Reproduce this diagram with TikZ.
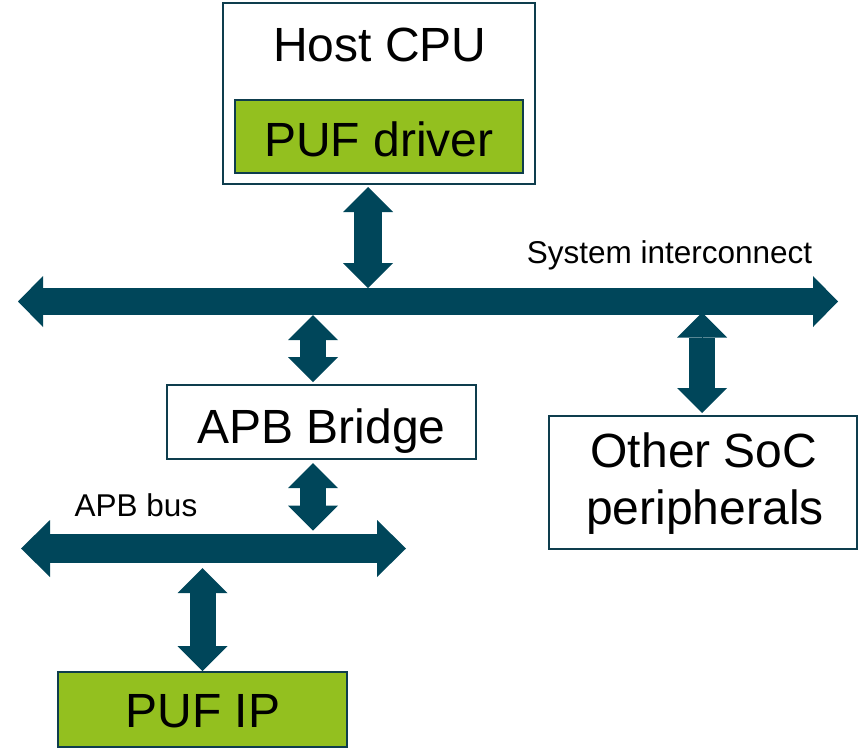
\documentclass[tikz,border=0pt]{standalone}
\usepackage{fontspec}
\setmainfont{Liberation Sans}
\usetikzlibrary{arrows.meta,calc}
\definecolor{busteal}{HTML}{00465A}
\definecolor{edgeteal}{HTML}{0E3D4D}
\definecolor{ipgreen}{HTML}{93C01F}
\begin{document}
\begin{tikzpicture}[x=1pt,y=-1pt,
  box/.style={draw=edgeteal, line width=2pt, fill=white, inner sep=0pt},
  ipbox/.style={box, fill=ipgreen},
  big/.style={font=\fontsize{48}{56}\selectfont, inner sep=0pt, anchor=base},
  small/.style={font=\fontsize{31.5}{36}\selectfont, inner sep=0pt, anchor=base},
  % a plain shaft under the heads closes the seam between shaft and tips
  shaft/.style={preaction={draw=busteal, arrows=-, shorten <=#1, shorten >=#1}},
  bus/.style={draw=busteal, line width=27pt, shaft=15pt,
    {Triangle[width=51pt,length=25pt,line width=0pt]}-{Triangle[width=51pt,length=25pt,line width=0pt]}},
  apbbus/.style={draw=busteal, line width=29pt, shaft=17pt,
    {Triangle[width=57pt,length=29pt,line width=0pt]}-{Triangle[width=57pt,length=29pt,line width=0pt]}},
  link/.style={draw=busteal, line width=26pt, shaft=15pt,
    {Triangle[width=50pt,length=25pt,line width=0pt]}-{Triangle[width=50pt,length=25pt,line width=0pt]}}
]
\useasboundingbox (0,0) rectangle (859,750);

% blocks
\node[box, minimum width=312pt, minimum height=181pt] (cpu) at (379,93.5) {};
\node[big] (cputext) at (380,61) {Host CPU};
\node[ipbox, minimum width=288pt, minimum height=73pt] (drv) at (379,136.5) {};
\node[big] (drvtext) at (379,156) {PUF driver};
\node[box, minimum width=309pt, minimum height=74pt] (bridge) at (321.5,422) {};
\node[big] (bridgetext) at (321.5,443) {APB Bridge};
\node[box, minimum width=308pt, minimum height=133pt] (other) at (703,482.5) {};
\node[big] (othertexta) at (704,467) {Other SoC};
\node[big] (othertextb) at (705,524) {peripherals};
\node[ipbox, minimum width=289pt, minimum height=75pt] (puf) at (202.5,709.5) {};
\node[big] (puftext) at (203,727) {PUF IP};

% buses
\coordinate (sysW) at (18,301.5);
\coordinate (sysE) at (838,301.5);
\coordinate (apbW) at (21,548.5);
\coordinate (apbE) at (406,548.5);
\draw[bus] (sysW) -- (sysE);
\draw[apbbus] (apbW) -- (apbE);
\node[small] (syslabel) at (669.5,263) {System interconnect};
\node[small] (apblabel) at (136,516) {APB bus};

% bus connections
\draw[link, line width=28pt] ([xshift=-11pt,yshift=-2pt]cpu.south) -- ([xshift=-11pt,yshift=13.5pt]cpu.south |- sysW);
\draw[link] ([xshift=-8.5pt,yshift=-13.5pt]bridge.north |- sysW) -- ([xshift=-8.5pt,yshift=2pt]bridge.north);
\draw[link] ([xshift=-8.5pt,yshift=-3pt]bridge.south) -- ([xshift=-8.5pt,yshift=18pt]bridge.south |- apbW);
\draw[link] ([yshift=-19.5pt]puf.north |- apbW) -- (puf.north);
\draw[link] ([xshift=-1pt,yshift=-11pt]other.north |- sysW) -- ([xshift=-1pt,yshift=2pt]other.north);
\end{tikzpicture}
\end{document}
